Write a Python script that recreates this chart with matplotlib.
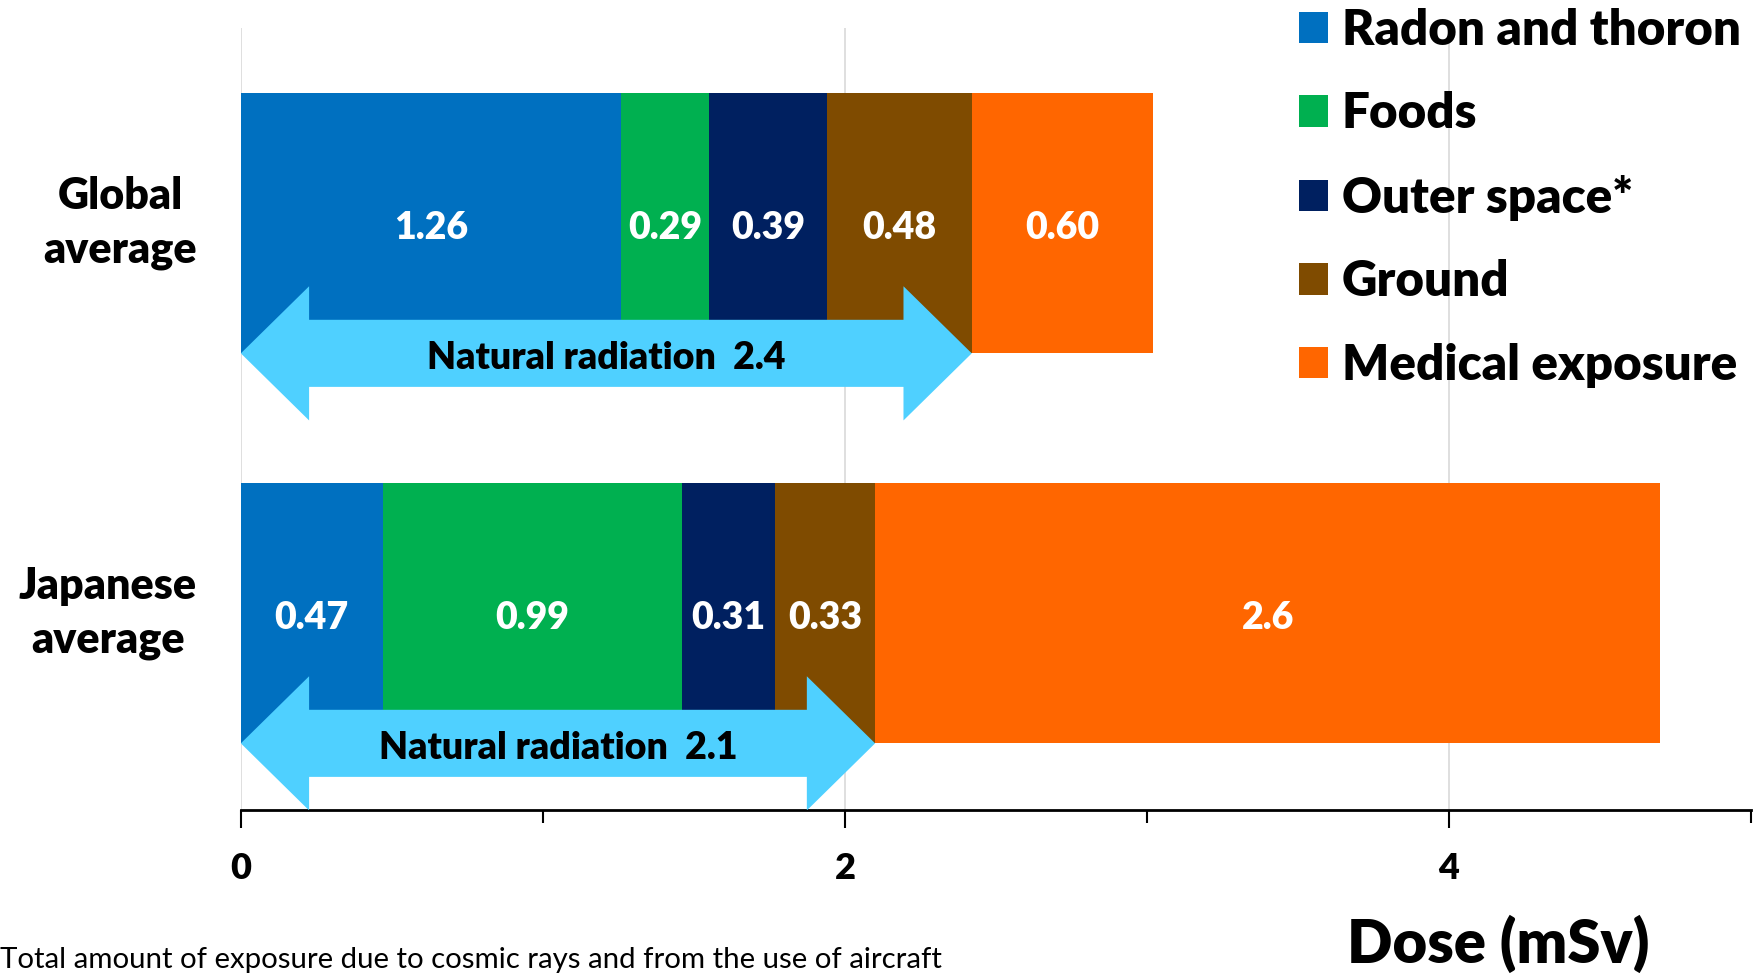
import numpy as np
import matplotlib.pyplot as plt
from matplotlib.patches import Polygon, Patch

# data (mSv)
groups = ['Global\naverage', 'Japanese\naverage']
sources = ['Radon and thoron', 'Foods', 'Outer space*', 'Ground', 'Medical exposure']
colors = ['#0070C0', '#00B050', '#002060', '#7F4B00', '#FF6600']
global_vals = [1.26, 0.29, 0.39, 0.48, 0.60]
japan_vals = [0.47, 0.99, 0.31, 0.33, 2.6]
value_text = [['1.26', '0.29', '0.39', '0.48', '0.60'],
              ['0.47', '0.99', '0.31', '0.33', '2.6']]
natural_text = ['Natural radiation  2.4', 'Natural radiation  2.1']
footnote = 'Total amount of exposure due to cosmic rays and from the use of aircraft'

plt.rcParams['font.family'] = ['Lato', 'DejaVu Sans']
BW = 'heavy'

fig = plt.figure(figsize=(17.58, 9.75), dpi=100)
ax = fig.add_axes([0.137, 0.169, 0.859, 0.802])

vals = np.array([global_vals, japan_vals])
ypos = np.arange(len(groups))
bar_h = 0.667
dy = 0.011  # nudge text down a touch

# stacked bars
left = np.zeros(len(groups))
for j in range(len(sources)):
    ax.barh(ypos, vals[:, j], left=left, height=bar_h, color=colors[j],
            edgecolor='none', zorder=2)
    for i in range(len(groups)):
        ax.text(left[i] + vals[i, j] / 2, ypos[i] + dy, value_text[i][j],
                color='white', fontsize=27, fontweight=BW,
                ha='center', va='center', zorder=5)
    left += vals[:, j]

# double-headed arrows for natural radiation (first four sources)
head_len = 0.226
shaft = 0.086
head = 0.172
for i in range(len(groups)):
    nat = vals[i, :4].sum()
    yc = ypos[i] + bar_h / 2
    pts = [(0, yc), (head_len, yc - head), (head_len, yc - shaft),
           (nat - head_len, yc - shaft), (nat - head_len, yc - head),
           (nat, yc), (nat - head_len, yc + head), (nat - head_len, yc + shaft),
           (head_len, yc + shaft), (head_len, yc + head)]
    ax.add_patch(Polygon(pts, closed=True, facecolor='#4FD0FF',
                         edgecolor='none', zorder=3))
    ax.text(nat / 2, yc + dy, natural_text[i], fontsize=27, fontweight=BW,
            ha='center', va='center', zorder=5)

# category labels
for i, g in enumerate(groups):
    ax.text(-0.145, ypos[i], g, fontsize=31, fontweight=BW, ha='right',
            va='center', multialignment='center', linespacing=1.4)

ax.set_xlim(0, 5)
ax.set_ylim(1.505, -0.5)
ax.set_xticks([0, 2, 4])
ax.set_xticks([1, 3, 5], minor=True)
ax.set_yticks([])
ax.tick_params(axis='x', which='major', length=13, width=1.5, pad=17,
               labelsize=26)
ax.tick_params(axis='x', which='minor', length=9, width=1.5)
for lab in ax.get_xticklabels():
    lab.set_fontweight(BW)
ax.grid(axis='x', color='#D9D9D9', linewidth=1.2, zorder=0)
ax.set_axisbelow(True)
for s in ['top', 'right', 'left']:
    ax.spines[s].set_visible(False)
ax.spines['bottom'].set_linewidth(2)

# legend
handles = [Patch(facecolor=c, edgecolor='none') for c in colors]
leg = fig.legend(handles, sources, loc='upper left',
                 bbox_to_anchor=(0.7275, 1.012), frameon=False,
                 prop={'size': 35.5, 'weight': BW},
                 handlelength=0.6, handleheight=0.6, handletextpad=0.27,
                 labelspacing=0.78, borderaxespad=0)

fig.text(1498 / 1758, 1 - 944 / 975, 'Dose (mSv)', fontsize=43,
         fontweight=BW, ha='center', va='center')
fig.text(0.0, 1 - 960 / 975, footnote, fontsize=21.2, ha='left', va='center')

fig.savefig('out.png', dpi=100)
